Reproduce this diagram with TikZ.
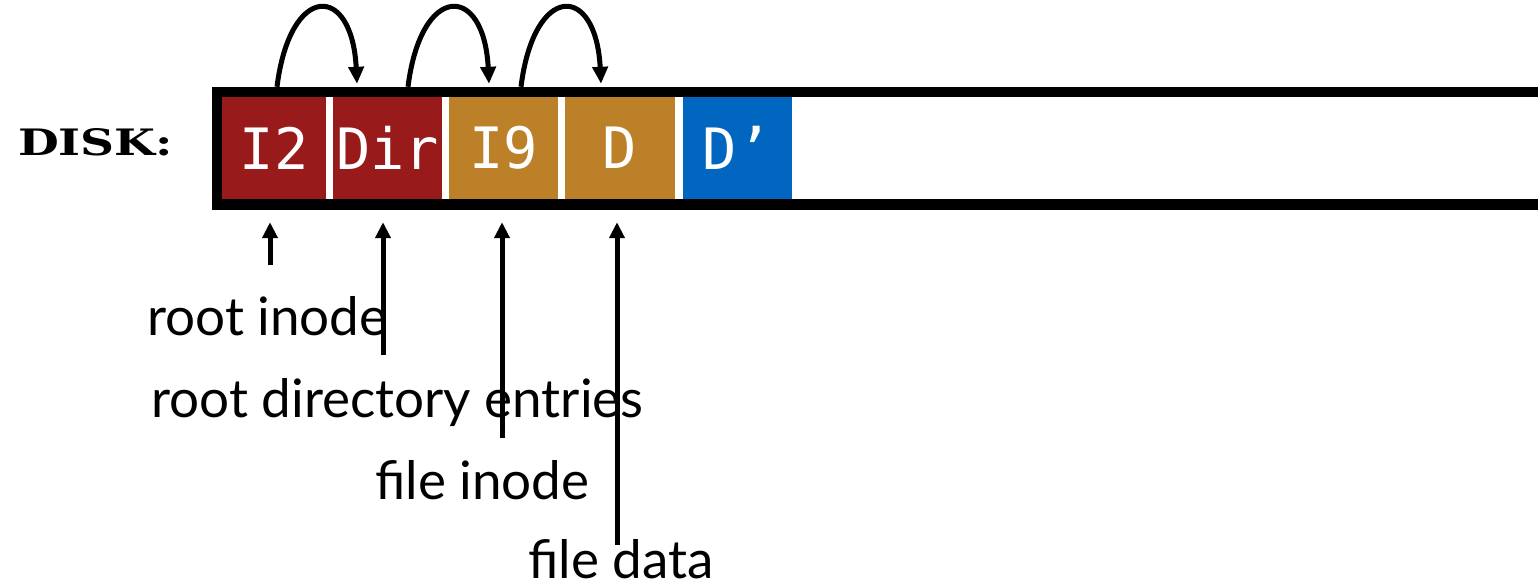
\documentclass[tikz,border=0pt]{standalone}
\usepackage{fontspec}
\usepackage{graphicx}
\setmainfont{Lato}
\newfontfamily\cellfont{DejaVu Sans Mono}
\newfontfamily\diskfont{DejaVu Serif}
\usetikzlibrary{arrows.meta}
\definecolor{cred}{HTML}{991A1A}
\definecolor{corange}{HTML}{BC8128}
\definecolor{cblue}{HTML}{0066C0}
\begin{document}
\begin{tikzpicture}[x=1pt,y=-1pt,
  cell/.style={inner sep=0pt, minimum height=102pt, text=white,
    font=\cellfont\fontsize{57}{60}\selectfont},
  lbl/.style={inner sep=0pt, anchor=base west, text depth=0pt, font=\fontsize{53}{55}\selectfont},
  arr/.style={line width=5pt, -{Triangle[length=16pt,width=15pt]}},
  hop/.style={line width=5pt, -{Triangle[length=17pt,width=15pt]}}]
\useasboundingbox (0,0) rectangle (1538,584);
% disk frame
\draw[line width=10.5pt] (1545,92) -- (217,92) -- (217,204.5) -- (1545,204.5);
% cells
\node[cell, fill=cred, minimum width=104.5pt] (I2) at (274,148) {I2};
\node[cell, fill=cred, minimum width=109pt] (Dir) at (387.5,148) {Dir};
\node[cell, fill=corange, minimum width=109pt] (I9) at (503.5,148) {I9};
\node[cell, fill=corange, minimum width=109.5pt] (D) at (620,148) {D};
\node[cell, fill=cblue, minimum width=109.5pt] (Dp) at (737.3,148) {D’};
% label
\node[inner sep=0pt, anchor=base west] (disk) at (18,155)
  {\resizebox{155pt}{27pt}{\diskfont\bfseries DISK:}};
% hop arrows
\draw[hop] ([xshift=3pt,yshift=10pt]I2.north) .. controls +(13,-104) and +(-5,-101) .. ([xshift=-30.5pt,yshift=13pt]Dir.north);
\draw[hop] ([xshift=20.5pt,yshift=10pt]Dir.north) .. controls +(13,-104) and +(-5,-101) .. ([xshift=-14.5pt,yshift=13pt]I9.north);
\draw[hop] ([xshift=17.5pt,yshift=10pt]I9.north) .. controls +(13,-104) and +(-5,-101) .. ([xshift=-19pt,yshift=13pt]D.north);
% labels
\node[lbl] (l1) at (147,335) {root inode};
\node[lbl] (l2) at (151,417) {root directory entries};
\node[lbl] (l3) at (375,499) {file inode};
\node[lbl] (l4) at (528,578) {file data};
% pointer arrows
\coordinate (a1) at (270,265);
\coordinate (a2) at (383,355);
\coordinate (a3) at (502,438);
\coordinate (a4) at (617,545);
\draw[arr, shorten >=23pt] (a1) -- (a1 |- I2.south);
\draw[arr, shorten >=23pt] (a2) -- (a2 |- Dir.south);
\draw[arr, shorten >=23pt] (a3) -- (a3 |- I9.south);
\draw[arr, shorten >=23pt] (a4) -- (a4 |- D.south);
\end{tikzpicture}
\end{document}
